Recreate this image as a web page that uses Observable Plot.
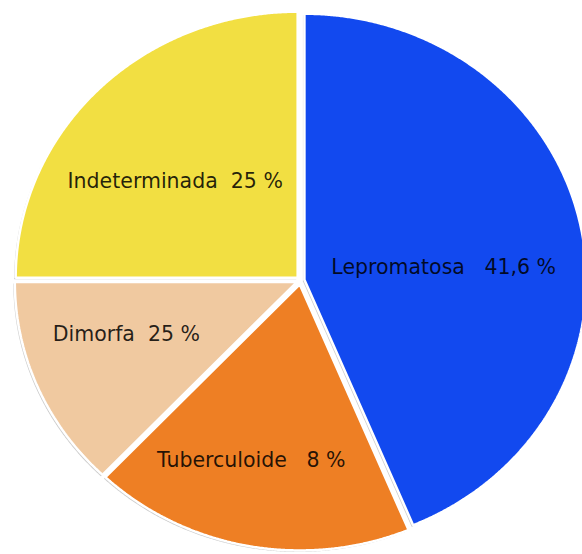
<!DOCTYPE html>
<html><head><meta charset="utf-8">
<script src="https://cdn.jsdelivr.net/npm/d3@7"></script>
<script src="https://cdn.jsdelivr.net/npm/@observablehq/plot@0.6"></script>
<style>
html,body{margin:0;padding:0;background:#fff;}
svg text{white-space:pre;}
</style>
</head><body><div id="chart"></div>
<script>
// ---- data ----
const categories = ["Lepromatosa", "Tuberculoide", "Dimorfa", "Indeterminada"];
const shares = [43.7, 18.4, 12.9, 25];   // visual share of the circle
const labels = ["Lepromatosa   41,6 %", "Tuberculoide   8 %", "Dimorfa  25 %", "Indeterminada  25 %"];
const colors = ["#1249EF", "#EE7F24", "#F0C9A0", "#F2DF42"];

// ---- layout (styling, not data) ----
const W = 582, H = 554;
const cx = 300, cy = 280, rx = 282, ry = 266;
const explode = 4;
const labelRadius = [0.51, 0.70, 0.65, 0.58];
const labelTurn = [6, 4, 5, -5];

const table = categories.map((c, i) => ({name: c, value: shares[i], label: labels[i], color: colors[i]}));
const arcs = d3.pie().sort(null).value(d => d.value)(table);

const marks = [];
const shadows = [];
const textRows = [];
arcs.forEach((a, i) => {
  const mid = (a.startAngle + a.endAngle) / 2;
  const ox = explode * Math.sin(mid) / rx;
  const oy = explode * Math.cos(mid) / ry;
  const pts = [{x: ox, y: oy}];
  const n = Math.max(2, Math.ceil((a.endAngle - a.startAngle) / 0.005));
  for (let k = 0; k <= n; k++) {
    const t = a.startAngle + (a.endAngle - a.startAngle) * k / n;
    pts.push({x: ox + Math.sin(t), y: oy + Math.cos(t)});
  }
  shadows.push(Plot.line(pts, {x: "x", y: "y", curve: "linear-closed", fill: "#6b6b6b", fillOpacity: 0.35, stroke: "none", dx: -1.5, dy: 1.5}));
  marks.push(Plot.line(pts, {x: "x", y: "y", curve: "linear-closed", fill: a.data.color, stroke: "white", strokeWidth: 2.5, strokeLinejoin: "miter"}));
  const la = mid + labelTurn[i] * Math.PI / 180;
  textRows.push({x: labelRadius[i] * Math.sin(la), y: labelRadius[i] * Math.cos(la), label: a.data.label});
});

const chart = Plot.plot({
  width: W, height: H,
  margin: 0,
  x: {domain: [(0 - cx) / rx, (W - cx) / rx], axis: null},
  y: {domain: [(cy - H) / ry, cy / ry], axis: null},
  style: {background: "#fff"},
  marks: [
    ...shadows,
    ...marks,
    Plot.text(textRows, {x: "x", y: "y", text: "label", fill: "#000", fillOpacity: 0.85,
      fontSize: 20.5, fontFamily: "DejaVu Sans, Verdana, sans-serif"})
  ]
});
document.getElementById("chart").appendChild(chart);
</script>
</body></html>
